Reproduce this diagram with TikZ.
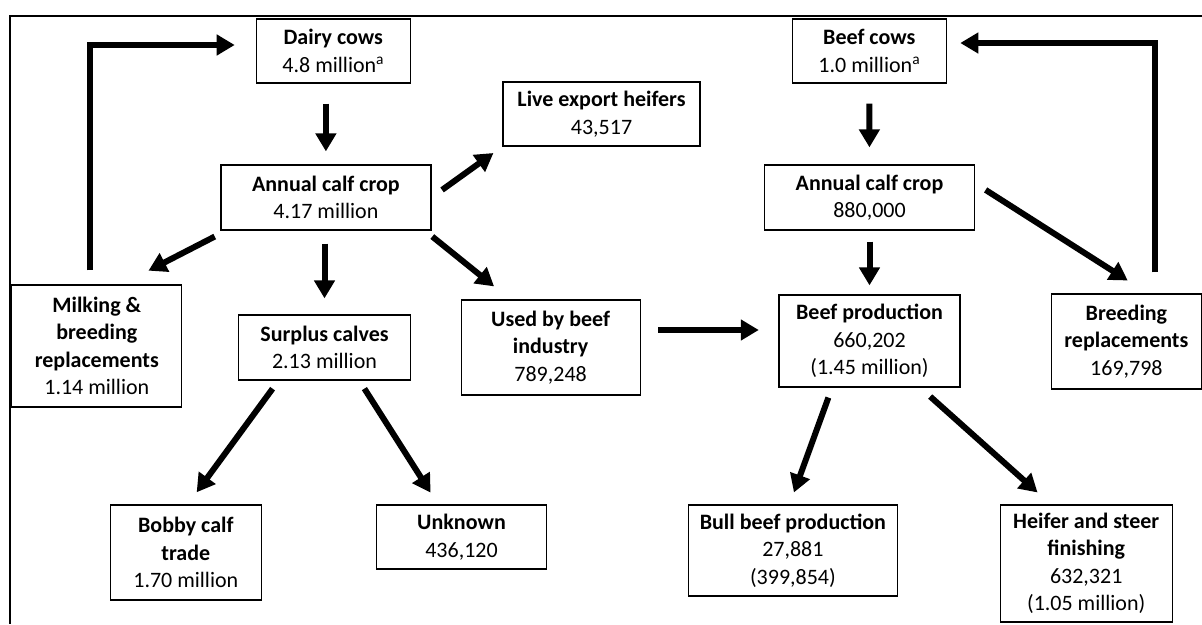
\documentclass[tikz,border=0pt]{standalone}
\usepackage{fontspec}
\setmainfont{Carlito}
\usepackage{tikz}
\usetikzlibrary{arrows.meta}

\begin{document}
\begin{tikzpicture}[x=1pt,y=-1pt,line join=miter,
    box/.style={draw, line width=1.2pt, align=center, inner sep=0pt, font=\fontsize{22}{27.5}\selectfont},
    flow/.style={line width=6pt, -{Triangle[length=18pt,width=20pt]}}]
    \useasboundingbox (0,0) rectangle (1202,624);
    \draw [line width=1.5pt] (1202,16) -- (10,16) -- (10,624);
    % dairy side
    \node[box, minimum width=154, minimum height=64] (dairy) at (333.3,51) {\textbf{Dairy cows}\\4.8 million\textsuperscript{a}};
    \node[box, minimum width=210, minimum height=65] (dcrop) at (325.9,197.5) {\textbf{Annual calf crop}\\4.17 million};
    \node[box, minimum width=197, minimum height=64] (live) at (601.5,114) {\textbf{Live export heifers}\\43,517};
    \node[box, minimum width=170, minimum height=122] (milk) at (96.8,346) {\textbf{Milking \&}\\\textbf{breeding}\\\textbf{replacements}\\1.14 million};
    \node[box, minimum width=171.5, minimum height=65] (surplus) at (324.5,347.5) {\textbf{Surplus calves}\\2.13 million};
    \node[box, minimum width=179, minimum height=95] (used) at (550.6,347.5) {\textbf{Used by beef}\\\textbf{industry}\\789,248};
    \node[box, minimum width=151, minimum height=95] (bobby) at (185.8,552.5) {\textbf{Bobby calf}\\\textbf{trade}\\1.70 million};
    \node[box, minimum width=170, minimum height=64] (unknown) at (461.5,537) {\textbf{Unknown}\\436,120};
    % beef side
    \node[box, minimum width=154, minimum height=64] (beefcows) at (869.3,51) {\textbf{Beef cows}\\1.0 million\textsuperscript{a}};
    \node[box, minimum width=209.6, minimum height=65] (bcrop) at (869.5,197.5) {\textbf{Annual calf crop}\\880,000};
    \node[box, minimum width=181, minimum height=92] (beefprod) at (869.5,341) {\textbf{Beef production}\\660,202\\(1.45 million)};
    \node[box, minimum width=149.5, minimum height=95] (breed) at (1126.4,341.5) {\textbf{Breeding}\\\textbf{replacements}\\169,798};
    \node[box, minimum width=209, minimum height=91] (bull) at (792.9,550.5) {\textbf{Bull beef production}\\27,881\\(399,854)};
    \node[box, minimum width=172, minimum height=117] (heifer) at (1086.2,563.5) {\textbf{Heifer and steer}\\\textbf{finishing}\\632,321\\(1.05 million)};
    % arrows
    \draw[flow, shorten <=20pt, shorten >=13pt] (dcrop.north |- dairy.south) -- (dcrop.north);
    \draw[flow, shorten <=13pt, shorten >=11pt] (dcrop.east) -- (live.south west);
    \draw[flow, shorten <=13pt, shorten >=30pt] ([xshift=6pt]dcrop.south west) -- ([xshift=25pt]milk.north);
    \draw[flow, shorten <=13pt, shorten >=16pt] (surplus.north |- dcrop.south) -- (surplus.north);
    \draw[flow, shorten <=9.5pt, shorten >=20.7pt] ([xshift=-6.6pt]dcrop.south east) -- ([xshift=49.7pt]used.north west);
    \draw[flow, shorten <=14pt, shorten >=21pt] ([xshift=-7pt]milk.north) |- ([yshift=6pt]dairy.west);
    \draw[flow, shorten <=10pt, shorten >=15pt] ([xshift=-46pt]surplus.south) -- ([xshift=2pt]bobby.north);
    \draw[flow, shorten <=9.5pt, shorten >=14pt] ([xshift=34.8pt]surplus.south) -- ([xshift=-23.4pt]unknown.north);
    \draw[flow, shorten <=17.6pt, shorten >=19.6pt] ([yshift=17.5pt]used.east) -- ([yshift=11pt]beefprod.west);
    \draw[flow, shorten <=20pt, shorten >=17pt] (beefcows.south) -- (bcrop.north);
    \draw[flow, shorten <=11pt, shorten >=9pt] (bcrop.south) -- (beefprod.north);
    \draw[flow, shorten <=12.7pt, shorten >=24pt] ([yshift=14.4pt]bcrop.east) -- ([xshift=21.6pt]breed.north);
    \draw[flow, shorten <=21pt, shorten >=13.4pt] ([xshift=29pt]breed.north) |- ([yshift=8pt]beefcows.east);
    \draw[flow, shorten <=10.6pt, shorten >=12.7pt] ([xshift=-37.5pt]beefprod.south) -- ([xshift=-3.3pt]bull.north);
    \draw[flow, shorten <=13.4pt, shorten >=17.9pt] ([xshift=50.7pt]beefprod.south) -- ([xshift=-35.3pt]heifer.north);
\end{tikzpicture}
\end{document}
